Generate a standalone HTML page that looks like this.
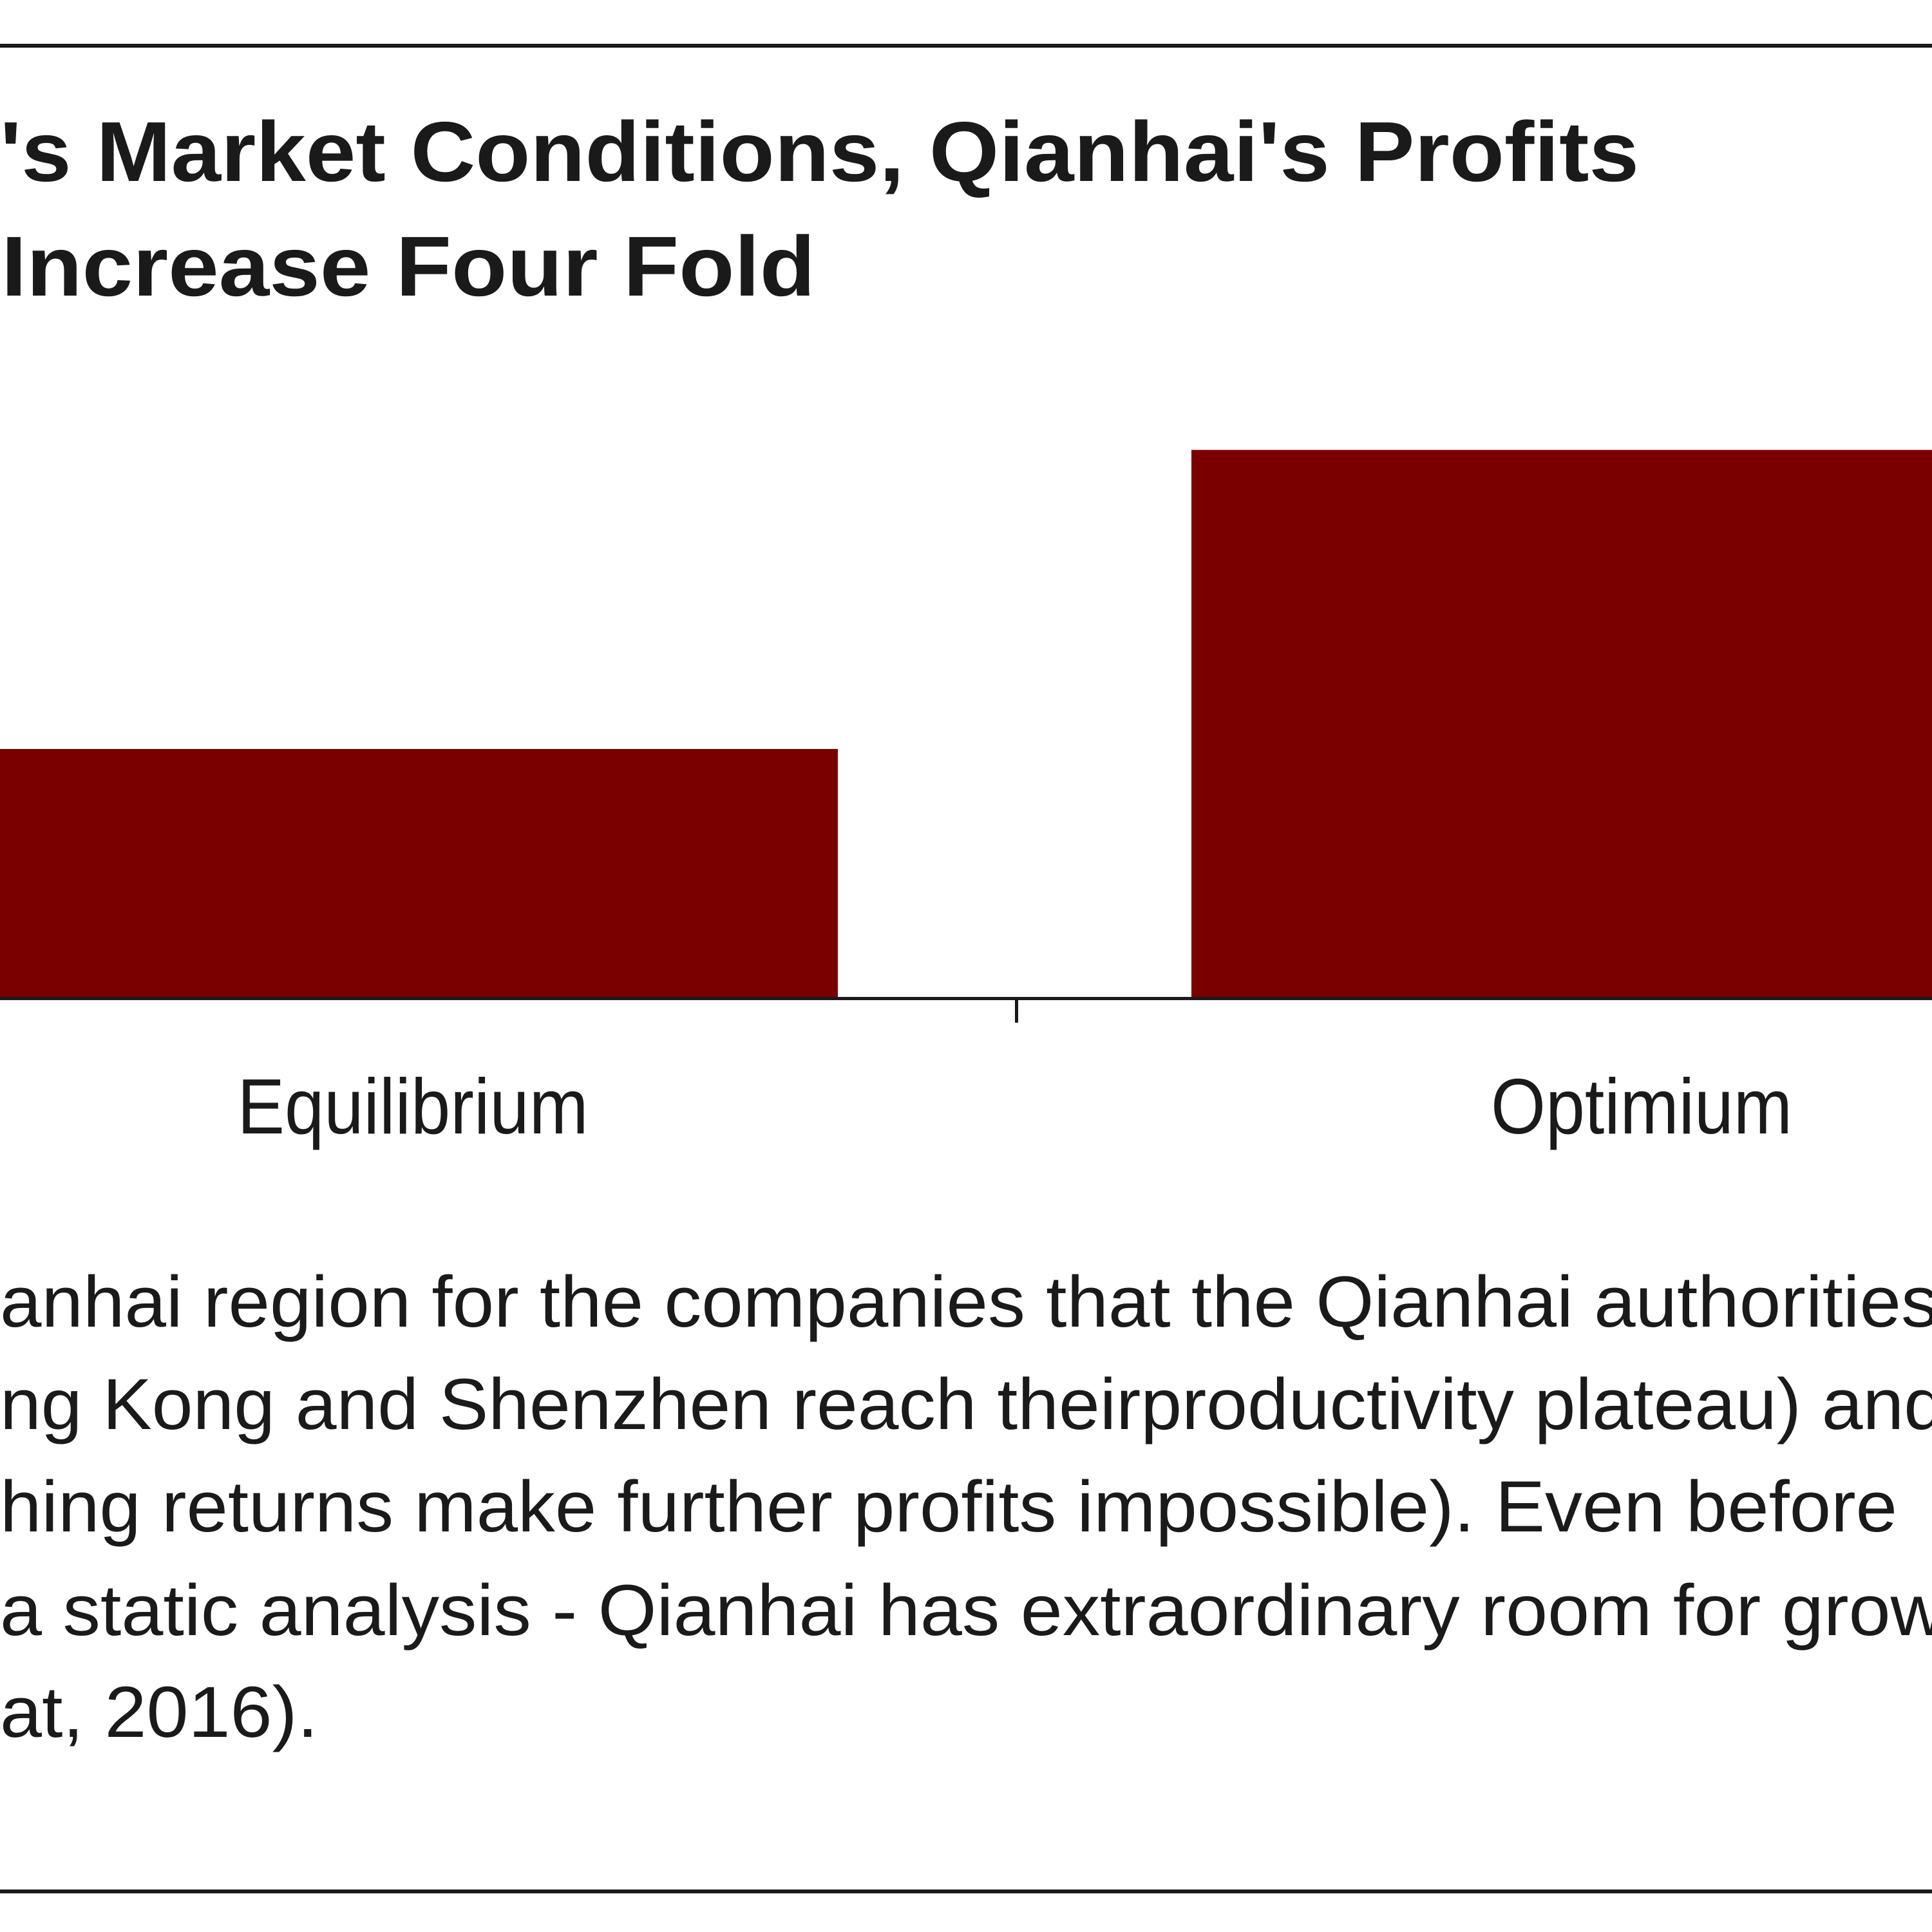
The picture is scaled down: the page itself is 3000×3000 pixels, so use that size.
<!DOCTYPE html>
<html>
<head>
<meta charset="utf-8">
<style>
  html, body { margin: 0; padding: 0; background: #fff; }
  svg { display: block; }
  text { font-family: "Liberation Sans", Arial, sans-serif; fill: #1a1a1a; }
</style>
</head>
<body>
<svg id="chart" width="3000" height="3000" viewBox="0 0 3000 3000" xmlns="http://www.w3.org/2000/svg">
  <rect x="0" y="0" width="3000" height="3000" fill="#ffffff"/>
  <rect x="0" y="68" width="3000" height="6" fill="#1a1a1a"/>
  <rect x="0" y="2934" width="3000" height="6" fill="#1a1a1a"/>

  <g>
    <text x="0" y="281" font-size="132" font-weight="bold" textLength="2545" lengthAdjust="spacingAndGlyphs">'s Market Conditions, Qianhai's Profits</text>
    <text x="2" y="459" font-size="132" font-weight="bold" textLength="1264" lengthAdjust="spacingAndGlyphs">Increase Four Fold</text>
  </g>

  <g id="plot"></g>

  <g font-size="112">
    <text x="0" y="2060" textLength="3010" lengthAdjust="spacingAndGlyphs">anhai region for the companies that the Qianhai authorities</text>
    <text x="0" y="2219" textLength="3020" lengthAdjust="spacingAndGlyphs">ng Kong and Shenzhen reach theirproductivity plateau) and</text>
    <text x="0" y="2378" textLength="2946" lengthAdjust="spacingAndGlyphs">hing returns make further profits impossible). Even before</text>
    <text x="0" y="2539" textLength="3020" lengthAdjust="spacingAndGlyphs">a static analysis - Qianhai has extraordinary room for grow</text>
    <text x="0" y="2697" textLength="494" lengthAdjust="spacingAndGlyphs">at, 2016).</text>
  </g>
</svg>
<script>
const categories = ["Equilibrium", "Optimium"];
const profitValues = [1, 2.2];
const labelWidths = [545, 468];

const NS = "http://www.w3.org/2000/svg";
const plot = document.getElementById("plot");
const axisY = 1550;
const pxPerUnit = 387;
const bandLeft = -500, bandWidth = 2078;
function yScale(v) { return axisY - v * pxPerUnit; }
function bandStart(i) { return bandLeft + i * bandWidth; }
const barOffset = 272, barW = 1529;

categories.forEach((c, i) => {
  const r = document.createElementNS(NS, "rect");
  
  
  const x = bandStart(i) + barOffset;
  r.setAttribute("x", x);
  r.setAttribute("y", yScale(profitValues[i]));
  r.setAttribute("width", barW);
  r.setAttribute("height", axisY - yScale(profitValues[i]));
  r.setAttribute("fill", "#7a0000");
  plot.appendChild(r);

  const t = document.createElementNS(NS, "text");
  
  
  const cx = bandStart(i) + bandWidth / 2 + 1143 - bandWidth / 2 ;
  t.setAttribute("x", (i === 0 ? 641 : 2549));
  t.setAttribute("y", 1760);
  t.setAttribute("font-size", "122");
  t.setAttribute("text-anchor", "middle");
  t.setAttribute("textLength", labelWidths[i]);
  t.setAttribute("lengthAdjust", "spacingAndGlyphs");
  t.textContent = c;
  plot.appendChild(t);
});

const axis = document.createElementNS(NS, "rect");


axis.setAttribute("x", 0); axis.setAttribute("y", axisY - 2);
axis.setAttribute("width", 3000); axis.setAttribute("height", 5);
axis.setAttribute("fill", "#1a1a1a");
plot.appendChild(axis);

const tick = document.createElementNS(NS, "rect");


tick.setAttribute("x", bandStart(1) - 2); tick.setAttribute("y", axisY);
tick.setAttribute("width", 5); tick.setAttribute("height", 38);
tick.setAttribute("fill", "#1a1a1a");
plot.appendChild(tick);
</script>
</body>
</html>
